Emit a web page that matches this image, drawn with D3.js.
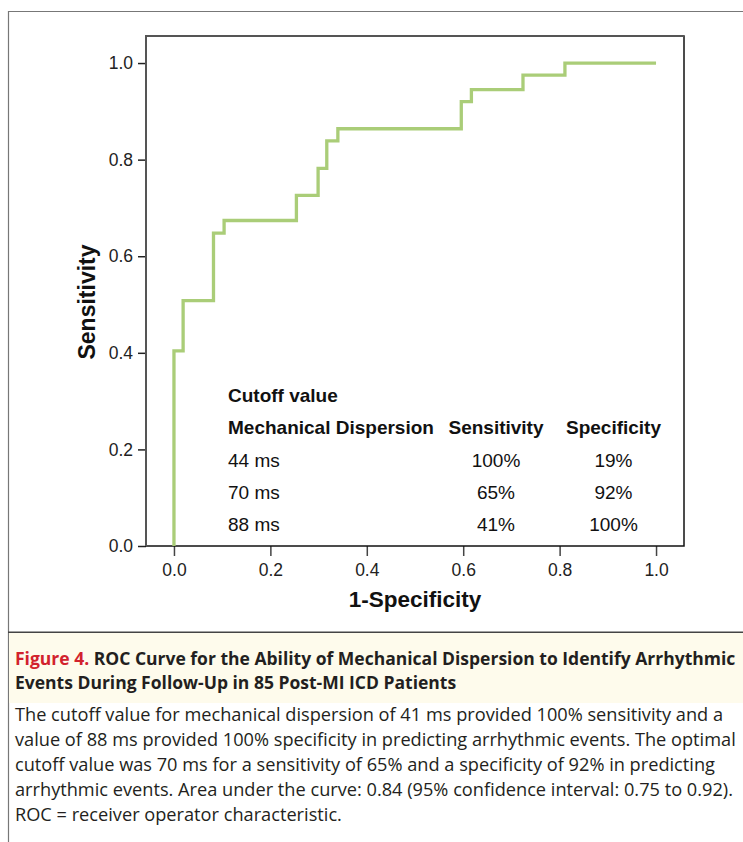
<!DOCTYPE html>
<html>
<head>
<meta charset="utf-8">
<script src="https://cdn.jsdelivr.net/npm/d3@7"></script>
<style>
  body { margin: 0; background: #fff; }
  svg { display: block; }
  .tick text { font-family: "Liberation Sans", Arial, sans-serif; font-size: 17.5px; fill: #222; }
</style>
</head>
<body>
<div class="container"></div>
<script>
const WIDTH = 743;
const HEIGHT = 842;

// ROC curve points (1-specificity, sensitivity)
var fpr = [0, 0, 0.019, 0.082, 0.104, 0.254, 0.299, 0.317, 0.340, 0.596, 0.617, 0.724, 0.811, 1.0];
var tpr = [0, 0.404, 0.508, 0.648, 0.674, 0.726, 0.782, 0.839, 0.864, 0.920, 0.945, 0.975, 1.0, 1.0];

var tickValues = [0, 0.2, 0.4, 0.6, 0.8, 1.0];

// inset table
var tableTitle = "Cutoff value";
var tableHeader = ["Mechanical Dispersion", "Sensitivity", "Specificity"];
var cutoffs = ["44 ms", "70 ms", "88 ms"];
var sensitivities = ["100%", "65%", "41%"];
var specificities = ["19%", "92%", "100%"];

var captionTitle = ["ROC Curve for the Ability of Mechanical Dispersion to Identify Arrhythmic",
	"Events During Follow-Up in 85 Post-MI ICD Patients"];
var captionBody = [
	"The cutoff value for mechanical dispersion of 41 ms provided 100% sensitivity and a",
	"value of 88 ms provided 100% specificity in predicting arrhythmic events. The optimal",
	"cutoff value was 70 ms for a sensitivity of 65% and a specificity of 92% in predicting",
	"arrhythmic events. Area under the curve: 0.84 (95% confidence interval: 0.75 to 0.92).",
	"ROC = receiver operator characteristic."
];

var svg = d3.select('.container').append('svg')
	.attr('width', WIDTH)
	.attr('height', HEIGHT);

// outer figure box
svg.append('path')
	.attr('d', 'M743,11.5 H8.5 V842')
	.attr('fill', 'none')
	.attr('stroke', '#777')
	.attr('stroke-width', 1.2);

var xScale = d3.scaleLinear().domain([-0.058, 1.058]).range([146, 684]);
var yScale = d3.scaleLinear().domain([0, 1.056]).range([546, 36]);

var yAxis = d3.axisLeft(yScale).tickValues(tickValues).tickFormat(d3.format('.1f'))
	.tickSize(8).tickPadding(5);
var xAxis = d3.axisBottom(xScale).tickValues(tickValues).tickFormat(d3.format('.1f'))
	.tickSize(10).tickPadding(8);

var gy = svg.append('g').attr('transform', 'translate(146,0)').call(yAxis);
var gx = svg.append('g').attr('transform', 'translate(0,546)').call(xAxis);
gy.select('.domain').remove();
gx.select('.domain').remove();
gy.selectAll('.tick line').attr('stroke', '#222').attr('stroke-width', 1.5);
gx.selectAll('.tick line').attr('stroke', '#444').attr('stroke-width', 1.5);
svg.selectAll('.tick text').attr('font-family', null).attr('font-size', null);

// plot frame
svg.append('rect')
	.attr('x', 146).attr('y', 36)
	.attr('width', 684 - 146).attr('height', 546 - 36)
	.attr('fill', 'none')
	.attr('stroke', '#111')
	.attr('stroke-width', 1.5);
svg.append('path')
	.attr('d', 'M146,546 V36 H684')
	.attr('fill', 'none')
	.attr('stroke', '#555')
	.attr('stroke-width', 2);

// the curve
var points = fpr.map(function(d, i) { return [d, tpr[i]]; });
var line = d3.line()
	.x(function(d) { return xScale(d[0]); })
	.y(function(d) { return yScale(d[1]); })
	.curve(d3.curveStepAfter);

svg.append('path')
	.attr('d', line(points))
	.attr('fill', 'none')
	.attr('stroke', '#aacd78')
	.attr('stroke-width', 3.3);

// axis titles
svg.append('text')
	.attr('transform', 'translate(95,302) rotate(-90)')
	.attr('text-anchor', 'middle')
	.attr('font-family', '"Liberation Sans", Arial, sans-serif')
	.attr('font-weight', 'bold')
	.attr('font-size', 23)
	.attr('fill', '#111')
	.text('Sensitivity');

svg.append('text')
	.attr('x', 415).attr('y', 607)
	.attr('text-anchor', 'middle')
	.attr('font-family', '"Liberation Sans", Arial, sans-serif')
	.attr('font-weight', 'bold')
	.attr('font-size', 22.5)
	.attr('fill', '#111')
	.text('1-Specificity');

// inset table
var tbl = svg.append('g')
	.attr('font-family', '"Liberation Sans", Arial, sans-serif')
	.attr('font-size', 19)
	.attr('fill', '#111');
var colX = [228, 496, 613.5];
tbl.append('text').attr('x', colX[0]).attr('y', 402).attr('font-weight', 'bold').text(tableTitle);
tableHeader.forEach(function(h, i) {
	tbl.append('text')
		.attr('x', colX[i]).attr('y', 434)
		.attr('text-anchor', i === 0 ? 'start' : 'middle')
		.attr('font-weight', 'bold')
		.text(h);
});
cutoffs.forEach(function(c, i) {
	var y = 466.7 + i * 32;
	tbl.append('text').attr('x', colX[0]).attr('y', y).text(c);
	tbl.append('text').attr('x', colX[1]).attr('y', y).attr('text-anchor', 'middle').text(sensitivities[i]);
	tbl.append('text').attr('x', colX[2]).attr('y', y).attr('text-anchor', 'middle').text(specificities[i]);
});

// caption
svg.append('rect')
	.attr('x', 9).attr('y', 633)
	.attr('width', WIDTH - 9).attr('height', 70)
	.attr('fill', '#fefbec');
svg.append('line')
	.attr('x1', 8).attr('x2', WIDTH)
	.attr('y1', 632.3).attr('y2', 632.3)
	.attr('stroke', '#444')
	.attr('stroke-width', 1.5);

var cap = svg.append('g')
	.attr('font-family', '"Open Sans", "Noto Sans", sans-serif');

captionTitle.forEach(function(t, i) {
	var txt = cap.append('text')
		.attr('x', 15).attr('y', 665 + i * 24)
		.attr('font-weight', 'bold')
		.attr('font-size', 17.5)
		.attr('fill', '#231f20');
	if (i === 0) {
		txt.append('tspan').attr('fill', '#d2222d').text('Figure 4. ');
	}
	txt.append('tspan').text(t);
});

captionBody.forEach(function(t, i) {
	cap.append('text')
		.attr('x', 15).attr('y', 721 + i * 25)
		.attr('font-size', 18.2)
		.attr('fill', '#231f20')
		.text(t);
});
</script>
</body>
</html>
